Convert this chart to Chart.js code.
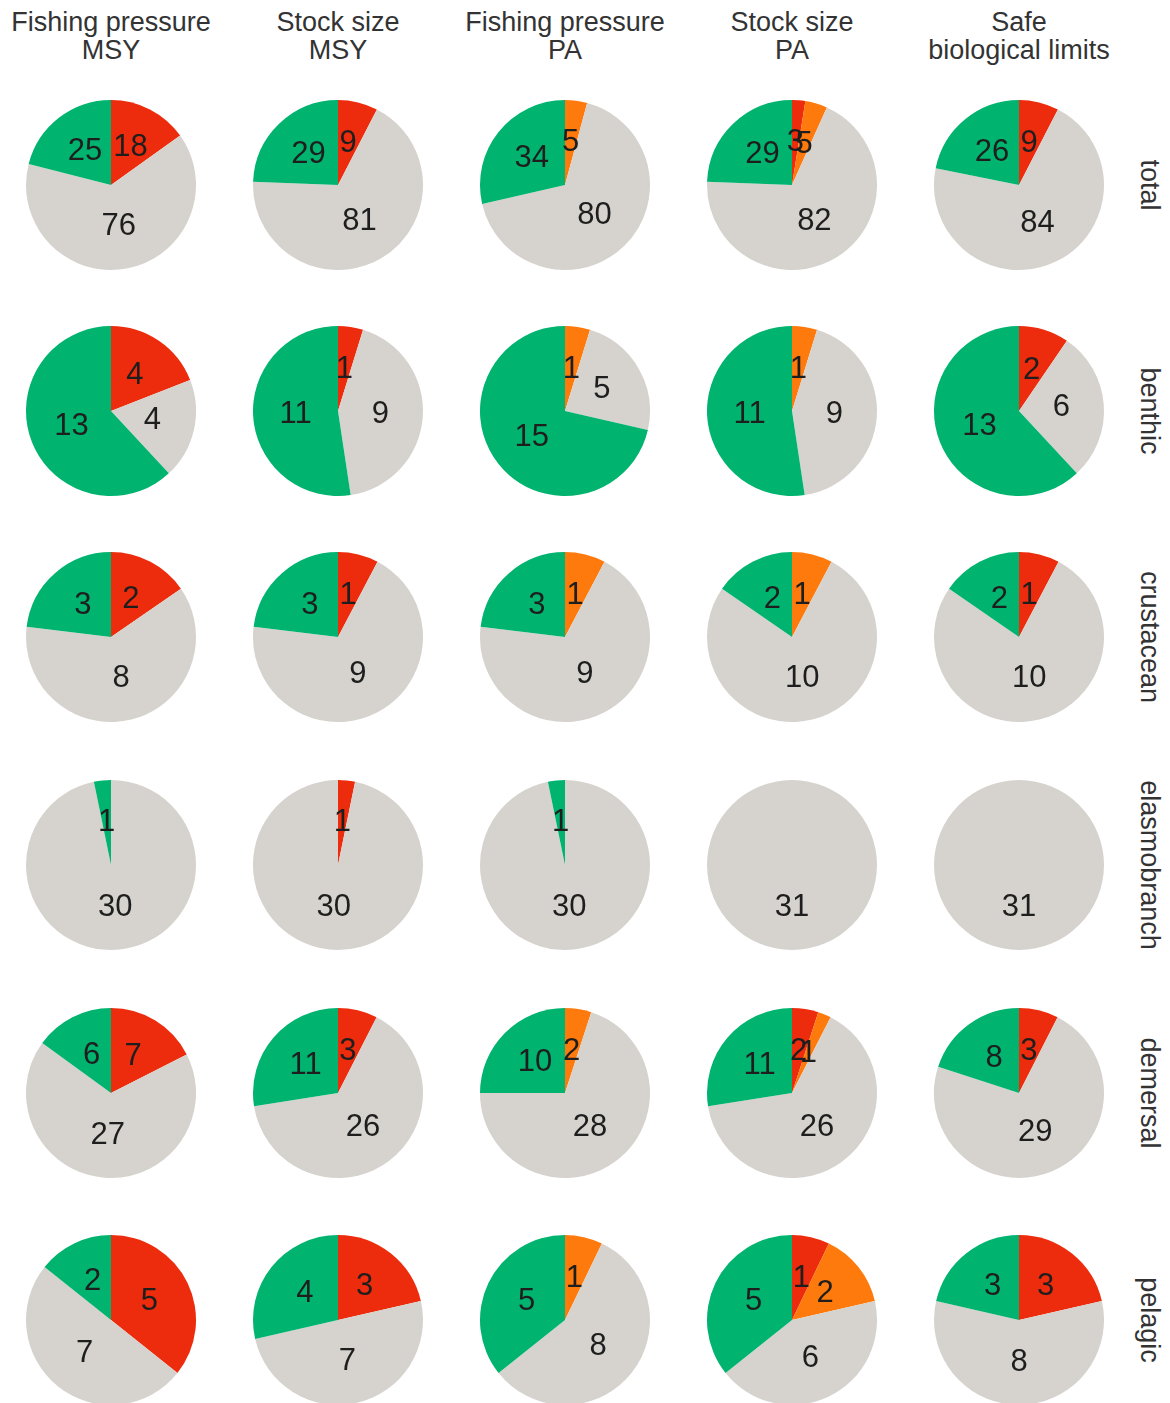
<!DOCTYPE html>
<html>
<head>
<meta charset="utf-8">
<script src="https://cdn.jsdelivr.net/npm/chart.js@4.4.1/dist/chart.umd.min.js"></script>
<style>
  body { margin: 0; background: #fff; }
  #wrap { position: relative; width: 1170px; height: 1403px; overflow: hidden; font-family: "Liberation Sans", Arial, sans-serif; }
  .head { position: absolute; width: 240px; text-align: center; font-size: 27px; line-height: 28px; color: #333; top: 8px; }
  .side { position: absolute; font-size: 27px; color: #333; transform: rotate(90deg); transform-origin: center center; white-space: nowrap; width: 220px; text-align: center; height: 30px; line-height: 30px; }
  .cell { position: absolute; width: 180px; height: 180px; }
</style>
</head>
<body>
<div id="wrap"></div>
<script>
// column headers and row labels
var columns = ['Fishing pressure\nMSY', 'Stock size\nMSY', 'Fishing pressure\nPA', 'Stock size\nPA', 'Safe\nbiological limits'];
var groups = ['total', 'benthic', 'crustacean', 'elasmobranch', 'demersal', 'pelagic'];

// slice order: red, orange, grey, green (clockwise from 12 o'clock)
var sliceColors = ['#ec2c0c', '#ff7a0c', '#d6d3ce', '#00b36f'];

// one array per group, one [red, orange, grey, green] per column
var total        = [[18, 0, 76, 25], [9, 0, 81, 29], [0, 5, 80, 34], [3, 5, 82, 29], [9, 0, 84, 26]];
var benthic      = [[4, 0, 4, 13],   [1, 0, 9, 11],  [0, 1, 5, 15],  [0, 1, 9, 11],  [2, 0, 6, 13]];
var crustacean   = [[2, 0, 8, 3],    [1, 0, 9, 3],   [0, 1, 9, 3],   [0, 1, 10, 2],  [1, 0, 10, 2]];
var elasmobranch = [[0, 0, 30, 1],   [1, 0, 30, 0],  [0, 0, 30, 1],  [0, 0, 31, 0],  [0, 0, 31, 0]];
var demersal     = [[7, 0, 27, 6],   [3, 0, 26, 11], [0, 2, 28, 10], [2, 1, 26, 11], [3, 0, 29, 8]];
var pelagic      = [[5, 0, 7, 2],    [3, 0, 7, 4],   [0, 1, 8, 5],   [1, 2, 6, 5],   [3, 0, 8, 3]];

var tableData = [total, benthic, crustacean, elasmobranch, demersal, pelagic];

var colX = [111, 338, 565, 792, 1019];
var rowY = [185, 411, 637, 865, 1093, 1320];

var wrap = document.getElementById('wrap');

// labels drawn halfway out along each slice's middle angle
var sliceLabels = {
    id: 'sliceLabels',
    afterDatasetsDraw: function (chart) {
        var c = chart.ctx;
        var values = chart.data.datasets[0].data;
        chart.getDatasetMeta(0).data.forEach(function (arc, i) {
            if (!values[i]) return;
            var p = arc.getProps(['x', 'y', 'startAngle', 'endAngle', 'outerRadius'], true);
            var mid = (p.startAngle + p.endAngle) / 2;
            var r = p.outerRadius * 0.5;
            c.save();
            c.font = '31px "Liberation Sans", Arial, sans-serif';
            c.fillStyle = '#1e1e1e';
            c.textAlign = 'center';
            c.textBaseline = 'middle';
            c.fillText(String(values[i]), p.x + Math.cos(mid) * r, p.y + Math.sin(mid) * r);
            c.restore();
        });
    }
};

columns.forEach(function (name, j) {
    var d = document.createElement('div');
    d.className = 'head';
    d.style.left = (colX[j] - 120) + 'px';
    d.innerHTML = name.replace('\n', '<br>');
    wrap.appendChild(d);
});

groups.forEach(function (name, i) {
    var d = document.createElement('div');
    d.className = 'side';
    d.style.left = (1150 - 110) + 'px';
    d.style.top = (rowY[i] - 15) + 'px';
    d.textContent = name;
    wrap.appendChild(d);
});

tableData.forEach(function (row, i) {
    row.forEach(function (vals, j) {
        var cell = document.createElement('div');
        cell.className = 'cell';
        cell.style.left = (colX[j] - 90) + 'px';
        cell.style.top = (rowY[i] - 90) + 'px';
        var cv = document.createElement('canvas');
        cv.width = 180;
        cv.height = 180;
        cell.appendChild(cv);
        wrap.appendChild(cell);

        new Chart(cv.getContext('2d'), {
            type: 'pie',
            data: {
                labels: ['red', 'orange', 'grey', 'green'],
                datasets: [{
                    data: vals,
                    backgroundColor: sliceColors,
                    borderWidth: 0,
                    hoverOffset: 0
                }]
            },
            options: {
                responsive: false,
                animation: false,
                radius: 85,
                events: [],
                layout: { padding: 0 },
                plugins: {
                    legend: { display: false },
                    tooltip: { enabled: false }
                }
            },
            plugins: [sliceLabels]
        });
    });
});
</script>
</body>
</html>
